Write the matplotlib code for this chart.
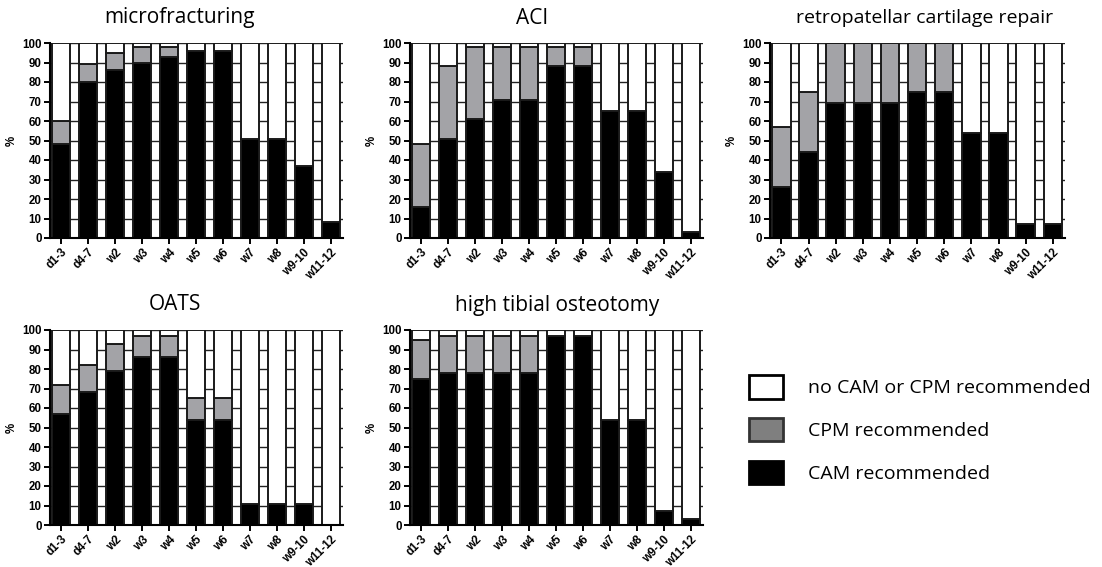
import numpy as np
import matplotlib
matplotlib.use("Agg")
import matplotlib.pyplot as plt
from matplotlib.patches import Patch

# time points after surgery
periods = ["d1-3", "d4-7", "w2", "w3", "w4", "w5", "w6", "w7", "w8", "w9-10", "w11-12"]

# % of protocols recommending CAM / CPM per time point
cam_micro = [48, 80, 86, 90, 93, 96, 96, 51, 51, 37, 8]
cpm_micro = [12, 9, 9, 8, 5, 0, 0, 0, 0, 0, 0]

cam_aci = [16, 51, 61, 71, 71, 88, 88, 65, 65, 34, 3]
cpm_aci = [32, 37, 37, 27, 27, 10, 10, 0, 0, 0, 0]

cam_retro = [26, 44, 69, 69, 69, 75, 75, 54, 54, 7, 7]
cpm_retro = [31, 31, 31, 31, 31, 25, 25, 0, 0, 0, 0]

cam_oats = [57, 68, 79, 86, 86, 54, 54, 11, 11, 11, 0]
cpm_oats = [15, 14, 14, 11, 11, 11, 11, 0, 0, 0, 0]

cam_hto = [75, 78, 78, 78, 78, 97, 97, 54, 54, 7, 3]
cpm_hto = [20, 19, 19, 19, 19, 0, 0, 0, 0, 0, 0]

titles = ["microfracturing", "ACI", "retropatellar cartilage repair", "OATS", "high tibial osteotomy"]
series = [(cam_micro, cpm_micro), (cam_aci, cpm_aci), (cam_retro, cpm_retro),
          (cam_oats, cpm_oats), (cam_hto, cpm_hto)]
legend_labels = ["no CAM or CPM recommended", "CPM recommended", "CAM recommended"]

W, H = 1102, 567
fig = plt.figure(figsize=(W / 100, H / 100), dpi=100)

# panel boxes in pixels: left, top, right, bottom
boxes = [(50, 43, 343, 238), (410, 43, 703, 238), (770, 43, 1065, 238),
         (50, 330, 343, 525), (410, 330, 703, 525)]
# title centres in pixels
title_cx = [180, 532, 925, 175, 557]
title_size = [15, 15, 14, 15, 15]

tick_font = dict(family="Liberation Sans", weight="bold", size=8.3)
edge = "#1a1a1a"

for (l, t, r, b), title, cx, fs, (cam, cpm) in zip(boxes, titles, title_cx, title_size, series):
    ax = fig.add_axes([l / W, 1 - b / H, (r - l) / W, (b - t) / H])
    x = np.arange(len(periods))
    cam = np.array(cam)
    cpm = np.array(cpm)
    rest = 100 - cam - cpm
    ax.bar(x, cam, width=0.68, color="black", edgecolor=edge, linewidth=1.4, zorder=2)
    ax.bar(x, cpm, width=0.68, bottom=cam, color="#a3a3a7", edgecolor=edge, linewidth=1.4, zorder=2)
    ax.bar(x, rest, width=0.68, bottom=cam + cpm, color="white", edgecolor=edge, linewidth=1.4, zorder=2)

    ax.set_xlim(-0.42, 10.45)
    ax.set_ylim(0, 100)
    ax.set_yticks(range(0, 101, 10))
    ax.yaxis.grid(True, color="#222222", linewidth=1.0, zorder=0)
    ax.set_axisbelow(True)
    ax.set_xticks(x)
    ax.set_xticklabels(periods, rotation=45, ha="right", rotation_mode="anchor", **tick_font)
    for lab in ax.get_yticklabels():
        lab.set_fontfamily("Liberation Sans")
        lab.set_fontweight("bold")
        lab.set_fontsize(8.3)
    ax.tick_params(axis="both", length=4, width=1.4, pad=2, color="black")
    for side in ["top", "right"]:
        ax.spines[side].set_visible(False)
    for side in ["left", "bottom"]:
        ax.spines[side].set_linewidth(1.5)
    ax.set_ylabel("%", labelpad=3, **tick_font)
    fig.text(cx / W, 1 - (t - 25) / H, title, family="Open Sans", fontsize=fs,
             ha="center", va="center")

handles = [Patch(facecolor="white", edgecolor="black", linewidth=2),
           Patch(facecolor="#7f7f7f", edgecolor="#333333", linewidth=2),
           Patch(facecolor="black", edgecolor="black", linewidth=2)]
fig.legend(handles, legend_labels, loc="upper left", bbox_to_anchor=(731 / W, 1 - 358 / H),
           frameon=False, prop=dict(family="Open Sans", size=14),
           handlelength=1.75, handleheight=1.45, labelspacing=1.0, handletextpad=1.3)

fig.savefig("out.png", dpi=100)
